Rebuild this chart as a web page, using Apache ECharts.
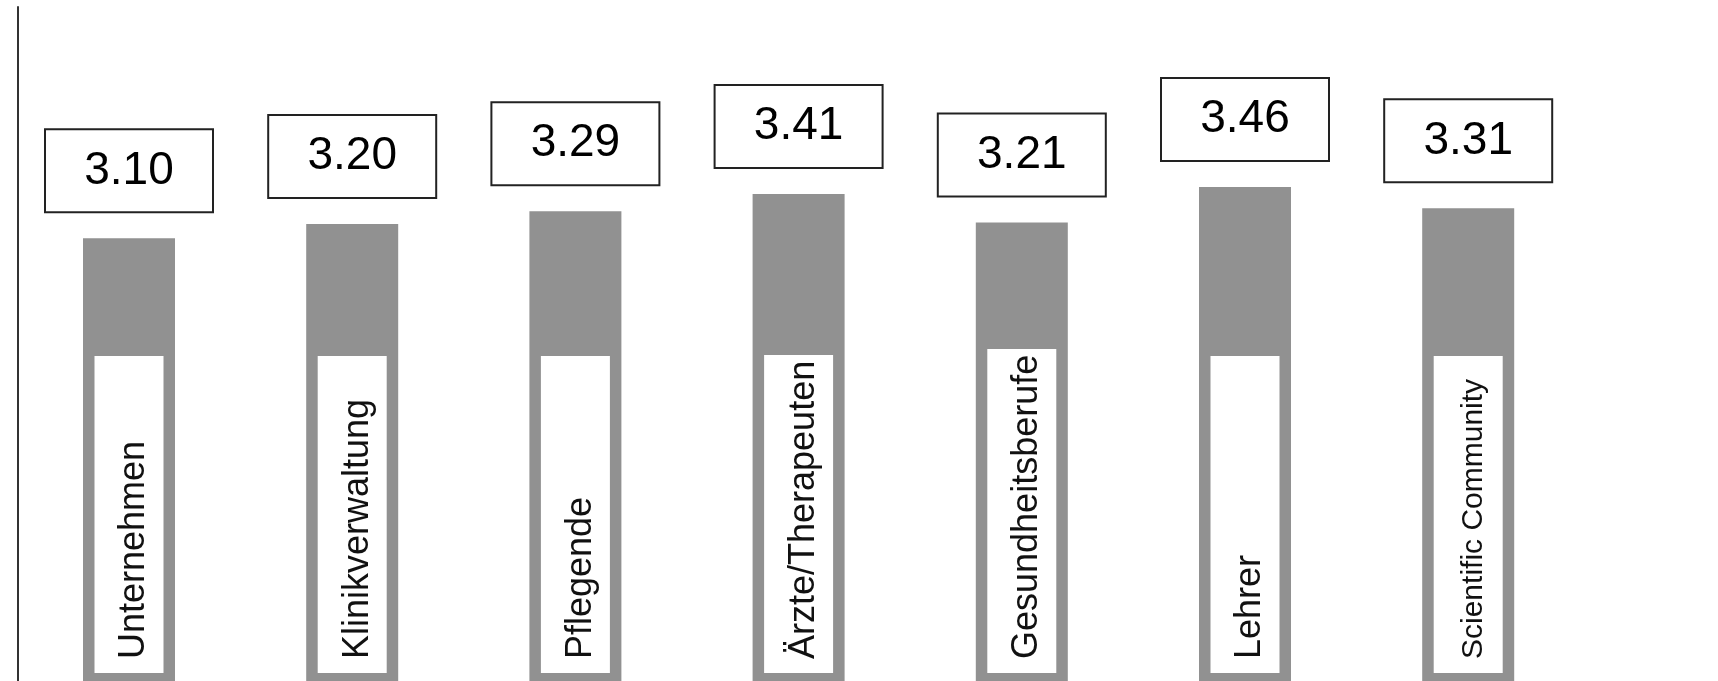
<!DOCTYPE html>
<html>
<head>
<meta charset="utf-8">
<script src="https://cdn.jsdelivr.net/npm/echarts@6/dist/echarts.min.js"></script>
<style>
html,body{margin:0;padding:0;background:#fff;}
#chart{width:1718px;height:681px;}
</style>
</head>
<body>
<div id="chart"></div>
<script>
const categories = ['Unternehmen', 'Klinikverwaltung', 'Pflegende', 'Ärzte/Therapeuten', 'Gesundheitsberufe', 'Lehrer', 'Scientific Community'];
const values = [3.10, 3.20, 3.29, 3.41, 3.21, 3.46, 3.31];
const yMin = 0;
const yMax = 4.72;

const FONT = '"Liberation Sans", Arial, sans-serif';
const measureCtx = document.createElement('canvas').getContext('2d');
function textWidth(txt, size) {
  measureCtx.font = size + 'px ' + FONT;
  return Math.ceil(measureCtx.measureText(txt).width);
}

const nameLabelData = categories.map((name, i) => {
  const size = name === 'Scientific Community' ? 30 : 36;
  return {
    value: values[i],
    label: { fontSize: size, width: Math.max(298, textWidth(name, size)) }
  };
});

const chart = echarts.init(document.getElementById('chart'));
chart.setOption({
  animation: false,
  backgroundColor: '#fff',
  grid: { left: 17.4, right: 138.2, top: 7, bottom: -5, containLabel: false },
  xAxis: {
    type: 'category',
    data: categories,
    axisLine: { show: false },
    axisTick: { show: false },
    axisLabel: { show: false },
    splitLine: { show: false }
  },
  yAxis: {
    type: 'value',
    min: yMin,
    max: yMax,
    axisLine: { show: true, lineStyle: { color: '#333', width: 2 } },
    axisTick: { show: false },
    axisLabel: { show: false },
    splitLine: { show: false }
  },
  series: [
    {
      type: 'bar',
      data: values,
      barWidth: 92,
      itemStyle: { color: '#919191' },
      label: {
        show: true,
        position: 'top',
        distance: 27,
        formatter: p => p.value.toFixed(2),
        fontFamily: FONT,
        fontSize: 46,
        color: '#000',
        backgroundColor: '#fff',
        borderColor: '#222',
        borderWidth: 2,
        width: 166,
        lineHeight: 81,
        align: 'center'
      }
    },
    {
      type: 'bar',
      data: nameLabelData,
      barWidth: 92,
      barGap: '-100%',
      silent: true,
      itemStyle: { color: 'rgba(0,0,0,0)' },
      label: {
        show: true,
        position: 'insideBottom',
        distance: 8,
        rotate: 90,
        align: 'left',
        verticalAlign: 'middle',
        formatter: '{b}',
        fontFamily: FONT,
        color: '#111',
        rich: {},
        backgroundColor: '#fff',
        lineHeight: 40,
        padding: [20, 5, 9, 14],
        overflow: 'none'
      }
    }
  ]
});
</script>
</body>
</html>
